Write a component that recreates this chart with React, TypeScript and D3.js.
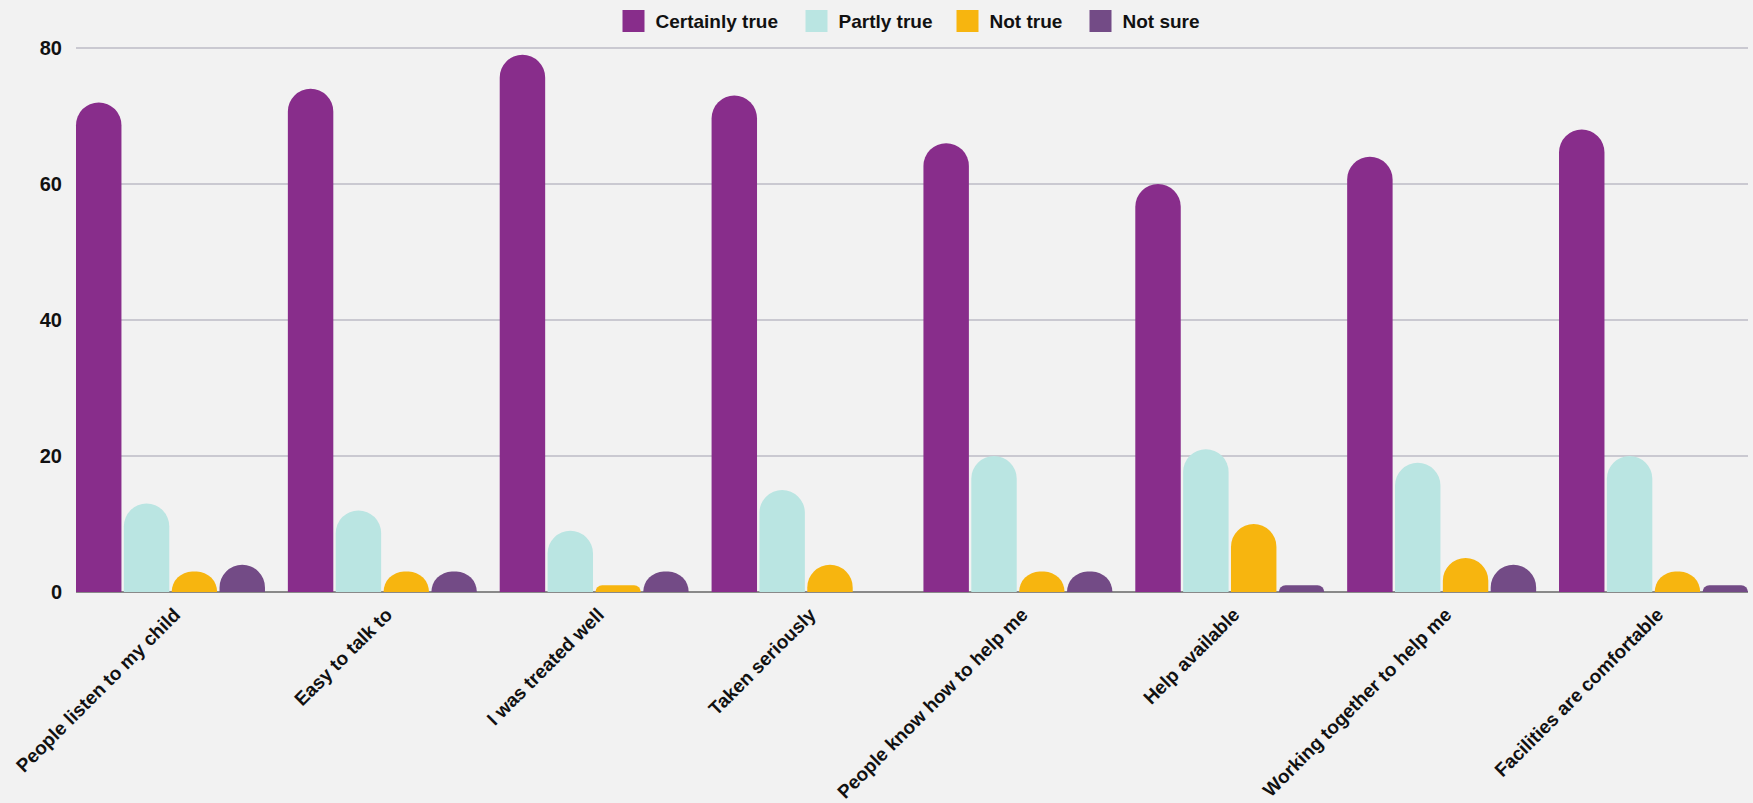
import React from "react";
import * as d3 from "d3";

const categories = [
  "People listen to my child",
  "Easy to talk to",
  "I was treated well",
  "Taken seriously",
  "People know how to help me",
  "Help available",
  "Working together to help me",
  "Facilities are comfortable",
];
const seriesNames = ["Certainly true", "Partly true", "Not true", "Not sure"];
const certainlyTrue = [72, 74, 79, 73, 66, 60, 64, 68];
const partlyTrue = [13, 12, 9, 15, 20, 21, 19, 20];
const notTrue = [3, 3, 1, 4, 3, 10, 5, 3];
const notSure = [4, 3, 3, 0, 3, 1, 4, 1];
const yTicks = [0, 20, 40, 60, 80];
const colors = ["#882D8B", "#BAE5E2", "#F7B50F", "#734B86"];

const W = 1753;
const H = 803;
const left = 76;
const right = 1748;
const top = 48;
const bottom = 592;
const FONT = "'Liberation Sans', Arial, sans-serif";

function barPath(x: number, w: number, y: number, y0: number) {
  const h = y0 - y;
  if (h <= 0) return "";
  const r = Math.min(w / 2, h);
  return `M${x},${y0}L${x},${y + r}A${r},${r} 0 0 1 ${x + r},${y}L${x + w - r},${y}A${r},${r} 0 0 1 ${x + w},${y + r}L${x + w},${y0}Z`;
}

export default function App() {
  const series = [certainlyTrue, partlyTrue, notTrue, notSure];
  const x0 = d3.scaleBand<string>().domain(categories).range([left, right]).paddingInner(0.108).paddingOuter(0);
  const x1 = d3.scaleBand<string>().domain(seriesNames).range([0, x0.bandwidth()]).paddingInner(0.05).paddingOuter(0);
  const y = d3.scaleLinear().domain([0, 80]).range([bottom, top]);

  // legend layout
  const sq = 22;
  const legendWidths = [123, 91, 73, 75];
  const gapText = 11;
  const gapItem = 27;
  let total = 0;
  legendWidths.forEach((w, i) => {
    total += sq + gapText + w + (i < legendWidths.length - 1 ? gapItem : 0);
  });
  let lx = (left + right) / 2 - total / 2 - 2;
  const legendItems = seriesNames.map((name, i) => {
    const item = { name, x: lx, color: colors[i] };
    lx += sq + gapText + legendWidths[i] + gapItem;
    return item;
  });

  return (
    <div>
      <style>{`body{margin:0;background:#F2F2F2}`}</style>
      <svg width={W} height={H} style={{ display: "block", background: "#F2F2F2" }} fontFamily={FONT}>
        {/* legend */}
        {legendItems.map((it) => (
          <g key={it.name}>
            <rect x={it.x} y={10} width={sq} height={sq} fill={it.color} />
            <text x={it.x + sq + gapText} y={28} fontSize={19} fontWeight={700} fill="#111">
              {it.name}
            </text>
          </g>
        ))}
        {/* grid */}
        {yTicks.map((t) => (
          <g key={t}>
            {t !== 0 && (
              <line x1={left} x2={right} y1={y(t)} y2={y(t)} stroke="#BDBBC6" strokeWidth={1.5} />
            )}
            <text x={62} y={y(t)} textAnchor="end" dominantBaseline="central" fontSize={20} fontWeight={700} fill="#111">
              {t}
            </text>
          </g>
        ))}
        <line x1={left} x2={right} y1={bottom} y2={bottom} stroke="#666" strokeWidth={1.5} />
        {/* bars */}
        {categories.map((c, ci) => (
          <g key={c}>
            {seriesNames.map((s, si) => {
              const bx = (x0(c) as number) + (x1(s) as number);
              const d = barPath(bx, x1.bandwidth(), y(series[si][ci]), y(0));
              return d ? <path key={s} d={d} fill={colors[si]} /> : null;
            })}
          </g>
        ))}
        {/* x labels */}
        {categories.map((c) => {
          const cx = (x0(c) as number) + x0.bandwidth() / 2 + 11;
          const cy = bottom + 24;
          return (
            <text
              key={c}
              x={cx}
              y={cy}
              transform={`rotate(-45 ${cx} ${cy})`}
              textAnchor="end"
              fontSize={19}
              fontWeight={700}
              fill="#111"
            >
              {c}
            </text>
          );
        })}
      </svg>
    </div>
  );
}
